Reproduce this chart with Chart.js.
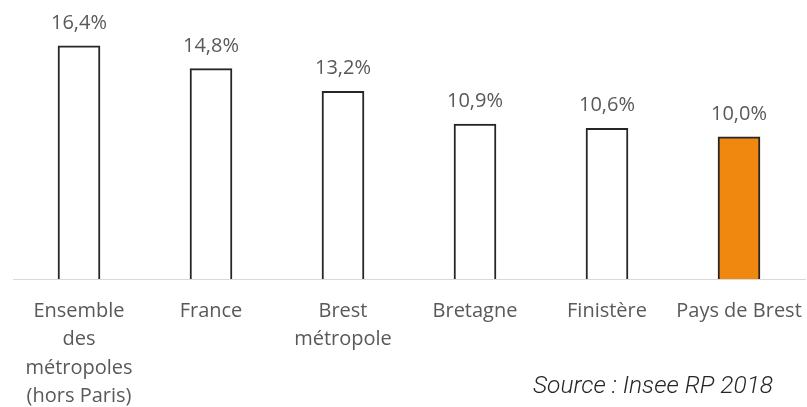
<!DOCTYPE html>
<html>
<head>
<meta charset="utf-8">
<script src="https://cdn.jsdelivr.net/npm/chart.js@4/dist/chart.umd.min.js"></script>
<style>
  html, body { margin: 0; padding: 0; background: #fff; }
  #wrap { width: 807px; height: 407px; position: relative; }
</style>
</head>
<body>
<div id="wrap"><canvas id="chart"></canvas></div>
<script>
const categories = [
    ["Ensemble", "des", "métropoles", "(hors Paris)"],
    "France",
    ["Brest", "métropole"],
    "Bretagne",
    "Finistère",
    "Pays de Brest"
];
const values = [16.4, 14.8, 13.2, 10.9, 10.6, 10.0];
const barColors = ["#ffffff", "#ffffff", "#ffffff", "#ffffff", "#ffffff", "#f0880f"];
const sourceText = "Source : Insee RP 2018";

// percentage above each bar, french decimal comma
const valueLabels = {
    id: 'valueLabels',
    afterDatasetsDraw(chart){
        const ctx = chart.ctx;
        const meta = chart.getDatasetMeta(0);
        ctx.save();
        ctx.font = '20px "Open Sans"';
        ctx.fillStyle = '#595959';
        ctx.textAlign = 'center';
        ctx.textBaseline = 'alphabetic';
        meta.data.forEach((bar, idx) => {
            const txt = values[idx].toFixed(1).replace('.', ',') + '%';
            ctx.fillText(txt, bar.x, bar.y - 17);
        });
        ctx.restore();
    }
};

const sourceNote = {
    id: 'sourceNote',
    afterDraw(chart){
        const ctx = chart.ctx;
        ctx.save();
        ctx.font = 'italic 300 24.5px Roboto';
        ctx.fillStyle = '#262626';
        ctx.textAlign = 'right';
        ctx.textBaseline = 'alphabetic';
        ctx.fillText(sourceText, 773, 393);
        ctx.restore();
    }
};

new Chart(document.getElementById('chart'), {
    type: 'bar',
    data: {
        labels: categories,
        datasets: [{
            data: values,
            backgroundColor: barColors,
            borderColor: '#262626',
            borderWidth: 2,
            barThickness: 42
        }]
    },
    options: {
        responsive: true,
        maintainAspectRatio: false,
        animation: false,
        layout: { padding: { top: 9, left: 13, right: 2, bottom: 0 } },
        plugins: {
            legend: { display: false },
            tooltip: { enabled: false }
        },
        scales: {
            x: {
                grid: { display: false, drawTicks: false },
                border: { color: '#d9d9d9', width: 1 },
                ticks: {
                    color: '#595959',
                    font: { family: 'Open Sans', size: 20, lineHeight: 1.42 },
                    maxRotation: 0,
                    autoSkip: false,
                    padding: 18
                },
                afterFit(scale){
                    // fixed label band, no extra side padding for wide labels
                    scale.height = 128;
                    scale.paddingLeft = 0;
                    scale.paddingRight = 0;
                }
            },
            y: {
                display: false,
                min: 0,
                max: 19
            }
        }
    },
    plugins: [valueLabels, sourceNote]
});
</script>
</body>
</html>
